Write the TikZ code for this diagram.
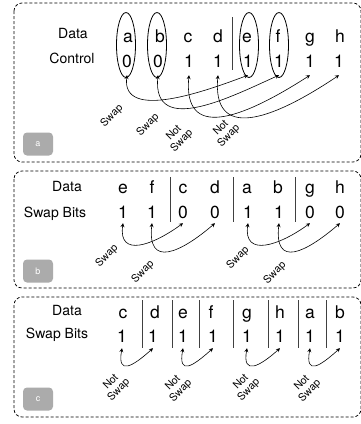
\documentclass[tikz,border=0pt]{standalone}
\usepackage{fontspec}
\setmainfont{TeX Gyre Heros}
\usetikzlibrary{arrows.meta,shapes.geometric}
\begin{document}
\begin{tikzpicture}[x=1pt,y=-1pt,
  panel/.style={draw=black,line width=0.75pt,dash pattern=on 3pt off 2pt,rounded corners=8pt},
  hdr/.style={anchor=base,inner sep=0pt,font=\fontsize{14}{16}\selectfont},
  let/.style={anchor=base,inner sep=0pt,font=\fontsize{17.5}{19}\selectfont},
  diga/.style={let,text depth=8pt},
  digb/.style={let,text depth=5pt},
  digc/.style={let,text depth=6pt},
  sepline/.style={draw=black!75,line width=1pt},
  oval/.style={draw,ellipse,line width=0.8pt,inner sep=0pt,minimum width=19pt,minimum height=65pt},
  conn/.style={line width=0.6pt,{Stealth[length=4pt,width=4pt,inset=1.5pt]}-{Stealth[length=4pt,width=4pt,inset=1.5pt]}},
  lbl/.style={rotate=45,inner sep=0pt,align=center,font=\fontsize{10.5}{11}\selectfont},
  tag/.style={fill=black!33,rounded corners=4pt,minimum width=30pt,minimum height=23pt,inner sep=0pt,text=white,font=\fontsize{9}{9}\selectfont}]
\useasboundingbox (0,0) rectangle (360,424);

% ---------- panel a ----------
\draw[panel] (14,3) rectangle (361,162);
\node[tag] (ta) at (38,144) {a};
\node[hdr] (hA1) at (73,38) {Data};
\node[hdr] (hA2) at (72,63) {Control};
\foreach \n/\x/\t in {1/128/a,2/160/b,3/188/c,4/218/d,5/247/e,6/278/f,7/310/g,8/340/h}
  \node[let] (lA\n) at (\x,42) {\t};
\foreach \n/\x/\t in {1/127/0,2/158/0,3/189/1,4/218/1,5/248/1,6/279/1,7/310/1,8/339/1}
  \node[diga] (dA\n) at (\x,67) {\t};
\node[oval] (oA1) at (126,45) {};
\node[oval] (oA2) at (157,45) {};
\node[oval] (oA5) at (249,45) {};
\node[oval] (oA6) at (279,45) {};
\draw[sepline] (232,17) -- (232,70);
\draw[conn] (dA1.south) .. controls +(-6,47) and +(-40,15) .. (dA5.south);
\draw[conn] (dA2.south) .. controls +(-6,63) and +(-45,20) .. (dA6.south);
\draw[conn] (dA3.south) .. controls +(-6,65) and +(-70,45) .. (dA7.south);
\draw[conn] (dA4.south) .. controls +(-6,65) and +(-70,47) .. (dA8.south);
\node[lbl] (sA1) at (112,116) {Swap};
\node[lbl] (sA2) at (148,125) {Swap};
\node[lbl] (sA3) at (178,137) {Not\\Swap};
\node[lbl] (sA4) at (225,132) {Not\\Swap};

% ---------- panel b ----------
\draw[panel] (14,171) rectangle (361,288);
\node[tag] (tb) at (38,271) {b};
\node[hdr] (hB1) at (67,191) {Data};
\node[hdr] (hB2) at (55,217) {Swap Bits};
\foreach \n/\x/\t in {1/123/e,2/152/f,3/183/c,4/215/d,5/247/a,6/278/b,7/310/g,8/340/h}
  \node[let] (lB\n) at (\x,193) {\t};
\foreach \n/\x/\t in {1/123/1,2/152/1,3/183/0,4/215/0,5/248/1,6/279/1,7/310/0,8/340/0}
  \node[digb] (dB\n) at (\x,218) {\t};
\draw[sepline] (170,177) -- (170,222);
\draw[sepline] (233,177) -- (233,222);
\draw[sepline] (295,177) -- (295,222);
\draw[conn] (dB1.south) .. controls +(-5,35) and +(-30,22) .. (dB3.south);
\draw[conn] (dB2.south) .. controls +(-5,45) and +(-35,30) .. (dB4.south);
\draw[conn] (dB5.south) .. controls +(-5,35) and +(-30,22) .. (dB7.south);
\draw[conn] (dB6.south) .. controls +(-5,45) and +(-35,30) .. (dB8.south);
\node[lbl] (sB1) at (107,256) {Swap};
\node[lbl] (sB2) at (143,272) {Swap};
\node[lbl] (sB3) at (238,258) {Swap};
\node[lbl] (sB4) at (275,273) {Swap};

% ---------- panel c ----------
\draw[panel] (14,297) rectangle (361,417);
\node[tag] (tc) at (38,399) {c};
\node[hdr] (hC1) at (67,315) {Data};
\node[hdr] (hC2) at (57,338) {Swap Bits};
\foreach \n/\x/\t in {1/123/c,2/155/d,3/183/e,4/211/f,5/247/g,6/280/h,7/310/a,8/340/b}
  \node[let] (lC\n) at (\x,318) {\t};
\foreach \n/\x in {1/122,2/153,3/183,4/213,5/247,6/280,7/310,8/340}
  \node[digc] (dC\n) at (\x,342) {1};
\foreach \x in {142,172,199,233,268,298,326}
  \draw[sepline] (\x,300) -- (\x,348);
\draw[conn] (dC1.south) .. controls +(-5,28) and +(-20,18) .. (dC2.south);
\draw[conn] (dC3.south) .. controls +(-5,28) and +(-20,18) .. (dC4.south);
\draw[conn] (dC5.south) .. controls +(-5,28) and +(-20,18) .. (dC6.south);
\draw[conn] (dC7.south) .. controls +(-5,28) and +(-20,18) .. (dC8.south);
\node[lbl] (sC1) at (115,386) {Not\\Swap};
\node[lbl] (sC2) at (177,387) {Not\\Swap};
\node[lbl] (sC3) at (245,386) {Not\\Swap};
\node[lbl] (sC4) at (306,387) {Not\\Swap};
\end{tikzpicture}
\end{document}
